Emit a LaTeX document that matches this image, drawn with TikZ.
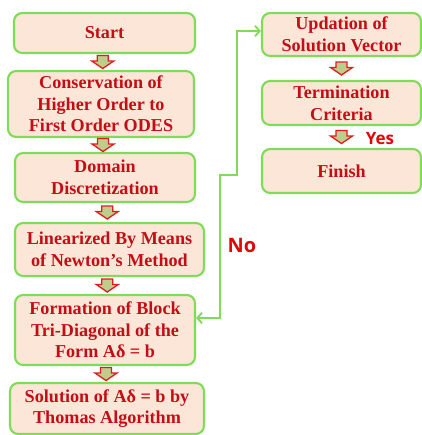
\documentclass[tikz,border=0pt]{standalone}
\usepackage{fontspec}
\setmainfont{Liberation Serif}
\newfontfamily\tagfont{Open Sans}
\usetikzlibrary{positioning, arrows.meta, calc}

\definecolor{boxfill}{RGB}{251,230,216}
\definecolor{boxline}{RGB}{128,220,88}
\definecolor{boxtext}{RGB}{196,14,22}
\definecolor{tipfill}{RGB}{190,205,140}
\definecolor{tipline}{RGB}{226,28,28}
\definecolor{tagred}{RGB}{222,8,8}

\tikzset{
    blockarrow/.pic={
        \draw[tipline, fill=tipfill, line width=1.1pt, line join=miter]
            (-5.5,-6.5) -- (5.5,-6.5) -- (5.5,-1) -- (11,-1) -- (0,6.5) -- (-11,-1) -- (-5.5,-1) -- cycle;
    }
}

\begin{document}
\begin{tikzpicture}[x=0.03cm, y=-0.03cm,
    every node/.style={font=\fontsize{15.5}{18.5}\selectfont\bfseries},
    stage/.style n args={2}{draw=boxline, fill=boxfill, line width=1.8pt, rounded corners=7pt,
        text=boxtext, align=center, inner sep=0pt, minimum width=#1, minimum height=#2},
    loopline/.style={{Straight Barb[length=4pt, width=9pt]}-{Straight Barb[length=4pt, width=9pt]}, boxline, line width=1.6pt},
    tag/.style={text=tagred, font=\tagfont\bfseries\fontsize{#1}{#1}\selectfont}
]

\useasboundingbox (0,0) rectangle (422,435);

% left column
\node[stage={5.43cm}{1.20cm}] (start) at (104.5,33) {Start};
\node[stage={5.58cm}{1.98cm}] (conv) at (101,104) {Conservation of\\Higher Order to\\First Order ODES};
\node[stage={5.40cm}{1.47cm}] (dom) at (105,177.5) {Domain\\Discretization};
\node[stage={5.67cm}{1.59cm}] (lin) at (109.5,249.5) {Linearized By Means\\of Newton’s Method};
\node[stage={5.40cm}{2.10cm}] (form) at (105,330) {Formation of Block\\Tri-Diagonal of the\\Form Aδ = b};
\node[stage={5.82cm}{1.53cm}] (sol) at (107,408.5) {Solution of Aδ = b by\\Thomas Algorithm};

% right column
\node[stage={4.77cm}{1.29cm}] (upd) at (341.5,34.5) {Updation of\\Solution Vector};
\node[stage={4.77cm}{1.32cm}] (term) at (341.5,103) {Termination\\Criteria};
\node[stage={4.77cm}{1.32cm}] (fin) at (341.5,171) {Finish};

\foreach \a/\b in {start/conv, conv/dom, dom/lin, lin/form, form/sol, upd/term, term/fin} {
    \pic at ($(\a.south)!0.5!(\b.north)$) {blockarrow};
}

% back to the solution vector
\coordinate (nofoot) at (220,318);
\coordinate (notop) at (237,31);
\draw[loopline] (nofoot -| form.east) -- (nofoot) |- (237,175) -- (notop) -- (notop -| upd.west);

\node[tag=17] (no) at (242,245) {No};
\node[tag=14.5] (yes) at (380,139) {Yes};

\end{tikzpicture}
\end{document}
